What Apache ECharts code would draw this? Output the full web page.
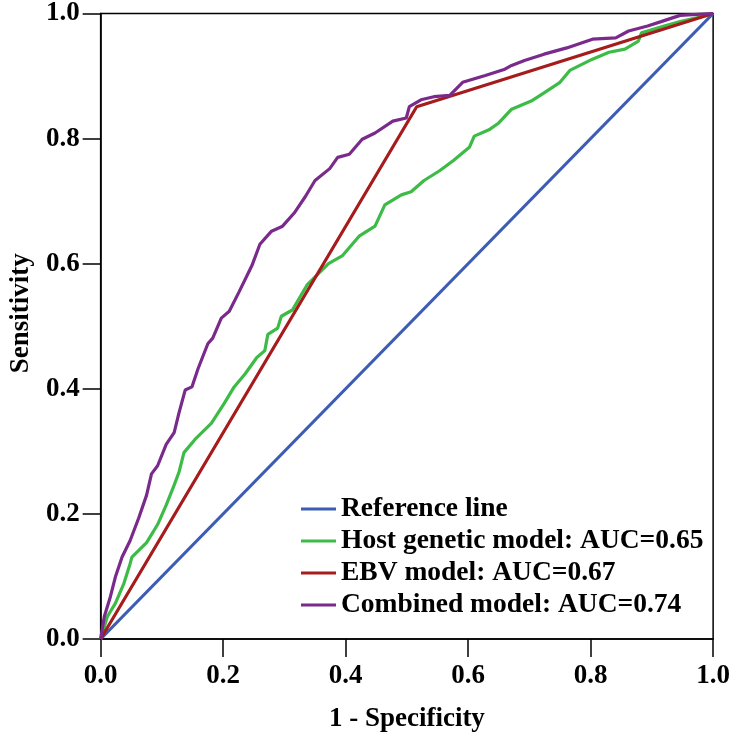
<!DOCTYPE html>
<html>
<head>
<meta charset="utf-8">
<script src="https://cdn.jsdelivr.net/npm/echarts@6/dist/echarts.min.js"></script>
<style>html,body{margin:0;padding:0;background:#fff}#c{width:733px;height:738px}</style>
</head>
<body>
<div id="c"></div>
<script>
var seriesNames = ['Reference line', 'Host genetic model: AUC=0.65', 'EBV model: AUC=0.67', 'Combined model: AUC=0.74'];
var tickLabels = ['0.0', '0.2', '0.4', '0.6', '0.8', '1.0'];

var referencePoints = [[0, 0], [1, 1]];

var ebvPoints = [[0, 0], [0.516, 0.851], [1, 1]];

var hostPoints = [
  [0, 0], [0.011, 0.036], [0.024, 0.057], [0.038, 0.089], [0.048, 0.120], [0.051, 0.131],
  [0.075, 0.154], [0.093, 0.183], [0.107, 0.214], [0.120, 0.246], [0.128, 0.267], [0.136, 0.298],
  [0.154, 0.319], [0.181, 0.345], [0.202, 0.377], [0.218, 0.403], [0.236, 0.424], [0.255, 0.450],
  [0.268, 0.461], [0.273, 0.487], [0.289, 0.497], [0.295, 0.516], [0.313, 0.526], [0.337, 0.566],
  [0.372, 0.600], [0.395, 0.613], [0.422, 0.644], [0.448, 0.660], [0.464, 0.694], [0.491, 0.710],
  [0.507, 0.715], [0.528, 0.733], [0.554, 0.749], [0.576, 0.765], [0.602, 0.786], [0.610, 0.804],
  [0.634, 0.814], [0.650, 0.825], [0.671, 0.847], [0.703, 0.860], [0.724, 0.873], [0.750, 0.890],
  [0.766, 0.909], [0.803, 0.927], [0.830, 0.938], [0.856, 0.943], [0.878, 0.956], [0.883, 0.969],
  [0.920, 0.980], [0.946, 0.987], [0.973, 0.993], [1, 1]
];

var combinedPoints = [
  [0, 0], [0.006, 0.036], [0.016, 0.068], [0.024, 0.099], [0.035, 0.131], [0.048, 0.157],
  [0.062, 0.193], [0.075, 0.230], [0.083, 0.264], [0.093, 0.277], [0.107, 0.311], [0.120, 0.330],
  [0.128, 0.362], [0.138, 0.398], [0.149, 0.403], [0.159, 0.432], [0.175, 0.472], [0.183, 0.481],
  [0.197, 0.513], [0.210, 0.524], [0.226, 0.555], [0.247, 0.597], [0.260, 0.631], [0.279, 0.652],
  [0.297, 0.660], [0.316, 0.681], [0.334, 0.707], [0.350, 0.733], [0.374, 0.752], [0.387, 0.770],
  [0.406, 0.775], [0.427, 0.799], [0.448, 0.809], [0.477, 0.828], [0.499, 0.833], [0.504, 0.851],
  [0.523, 0.862], [0.544, 0.867], [0.570, 0.869], [0.591, 0.890], [0.628, 0.901], [0.660, 0.911],
  [0.671, 0.917], [0.692, 0.925], [0.724, 0.935], [0.761, 0.945], [0.803, 0.959], [0.841, 0.961],
  [0.862, 0.972], [0.893, 0.980], [0.915, 0.987], [0.946, 0.997], [1, 1]
];

var colors = ['#3D5DB5', '#3DBB47', '#A61C1C', '#7A2A8A'];
var font = '"Liberation Serif", "Times New Roman", serif';

var chart = echarts.init(document.getElementById('c'), null, {renderer: 'canvas'});

function lineSeries(name, data, color) {
  return {
    name: name, type: 'line', data: data, symbol: 'none', animation: false,
    lineStyle: {color: color, width: 3.2}, itemStyle: {color: color}
  };
}

var axisCommon = {
  type: 'value', min: 0, max: 1, interval: 0.2,
  splitLine: {show: false},
  axisLine: {show: true, lineStyle: {color: '#000', width: 1.5}},
  axisTick: {show: true, inside: false, length: 18, lineStyle: {color: '#000', width: 1.5}},
  axisLabel: {
    color: '#000', fontFamily: font, fontWeight: 'bold', fontSize: 27,
    formatter: function (v) { return tickLabels[Math.round(v / 0.2)]; }
  },
  nameLocation: 'middle',
  nameTextStyle: {color: '#000', fontFamily: font, fontWeight: 'bold', fontSize: 27}
};

chart.setOption({
  backgroundColor: '#fff',
  animation: false,
  grid: {left: 88, right: 16, top: 7, bottom: 95, show: true, borderColor: '#000', borderWidth: 1.5, containLabel: false},
  xAxis: Object.assign({}, axisCommon, {
    name: '1 - Specificity', nameGap: 67,
    axisLabel: Object.assign({}, axisCommon.axisLabel, {margin: 24})
  }),
  yAxis: Object.assign({}, axisCommon, {
    name: 'Sensitivity', nameGap: 61,
    nameTextStyle: Object.assign({}, axisCommon.nameTextStyle, {padding: [0, 0, 0, 26]}),
    axisLabel: Object.assign({}, axisCommon.axisLabel, {margin: 21})
  }),
  legend: {
    orient: 'vertical', left: 296, top: 490, itemWidth: 35, itemHeight: 3, itemGap: 4,
    icon: 'rect',
    textStyle: {color: '#000', fontFamily: font, fontWeight: 'bold', fontSize: 27.5},
    data: seriesNames
  },
  series: [
    lineSeries(seriesNames[0], referencePoints, colors[0]),
    lineSeries(seriesNames[1], hostPoints, colors[1]),
    lineSeries(seriesNames[2], ebvPoints, colors[2]),
    lineSeries(seriesNames[3], combinedPoints, colors[3])
  ]
});
</script>
</body>
</html>
